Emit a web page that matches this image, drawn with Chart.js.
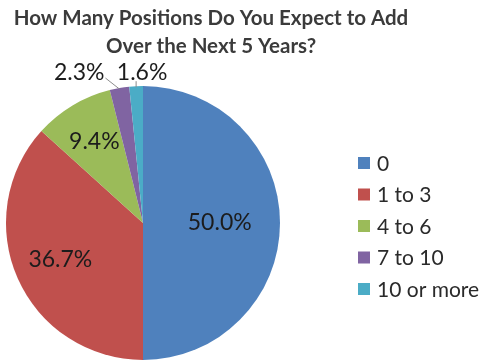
<!DOCTYPE html>
<html>
<head>
<meta charset="utf-8">
<script src="https://cdn.jsdelivr.net/npm/chart.js@4/dist/chart.umd.min.js"></script>
<style>
  html, body { margin: 0; padding: 0; background: #ffffff; }
  #wrap { width: 479px; height: 364px; position: relative; }
</style>
</head>
<body>
<div id="wrap"><canvas id="chart" width="479" height="364"></canvas></div>
<script>
// Survey answers: expected number of positions to add over the next 5 years
const categories = ['0', '1 to 3', '4 to 6', '7 to 10', '10 or more'];
const shares = [50.0, 36.7, 9.4, 2.3, 1.6];
const sliceColors = ['#4F81BD', '#C0504D', '#9BBB59', '#8064A2', '#4BACC6'];
const titleLines = ['How Many Positions Do You Expect to Add', 'Over the Next 5 Years?'];

const FONT = 'Lato, "Open Sans", sans-serif';

// Title, slice percentage labels and a right-hand legend, drawn on the canvas
const decorations = {
  id: 'decorations',
  afterDraw(chart, args, opts) {
    const ctx = chart.ctx;
    const meta = chart.getDatasetMeta(0);
    ctx.save();

    // title
    ctx.fillStyle = '#3b3b3b';
    ctx.font = 'bold ' + opts.titleSize + 'px ' + FONT;
    ctx.textAlign = 'center';
    ctx.textBaseline = 'middle';
    titleLines.forEach((line, i) => {
      ctx.fillText(line, opts.titleX, opts.titleY + i * opts.titleGap);
    });

    // percentage labels
    ctx.font = opts.labelSize + 'px ' + FONT;
    ctx.fillStyle = '#1c1c1c';
    meta.data.forEach((arc, i) => {
      const p = arc.getProps(['x', 'y', 'startAngle', 'endAngle', 'outerRadius'], true);
      const mid = (p.startAngle + p.endAngle) / 2;
      const text = shares[i].toFixed(1) + '%';
      const out = opts.outside[i];
      if (out) {
        const ex = p.x + Math.cos(mid) * p.outerRadius;
        const ey = p.y + Math.sin(mid) * p.outerRadius;
        ctx.strokeStyle = '#8c8c8c';
        ctx.lineWidth = 1;
        ctx.beginPath();
        ctx.moveTo(ex, ey + 1);
        ctx.lineTo(ex + out.lx, ey + out.ly);
        ctx.stroke();
        ctx.textAlign = out.align;
        ctx.fillText(text, ex + out.tx, ey + out.ty);
      } else {
        const f = opts.inside[i];
        ctx.textAlign = 'center';
        ctx.fillText(text, p.x + Math.cos(mid) * p.outerRadius * f, p.y + Math.sin(mid) * p.outerRadius * f);
      }
    });

    // legend
    ctx.font = opts.legendSize + 'px ' + FONT;
    ctx.textAlign = 'left';
    categories.forEach((c, i) => {
      const y = opts.legendY + i * opts.legendGap;
      ctx.fillStyle = sliceColors[i];
      ctx.fillRect(opts.legendX, y - 6, 12, 12);
      ctx.fillStyle = '#2a2a2a';
      ctx.fillText(c, opts.legendX + 19, y + 1);
    });
    ctx.restore();
  }
};

new Chart(document.getElementById('chart'), {
  type: 'pie',
  data: {
    labels: categories,
    datasets: [{
      data: shares,
      backgroundColor: sliceColors,
      borderWidth: 0
    }]
  },
  options: {
    responsive: false,
    animation: false,
    layout: { padding: { left: 6, right: 199, top: 86, bottom: 4 } },
    plugins: {
      legend: { display: false },
      title: { display: false },
      tooltip: { enabled: false },
      decorations: {
        titleSize: 20.5, titleX: 211, titleY: 18, titleGap: 28,
        labelSize: 23,
        inside: { 0: 0.56, 1: 0.66, 2: 0.69 },
        outside: {
          3: { lx: -14, ly: -10, tx: -15, ty: -15, align: 'right' },
          4: { lx: 0, ly: -5, tx: 6, ty: -14, align: 'center' }
        },
        legendSize: 21, legendX: 358, legendY: 163, legendGap: 31.5
      }
    }
  },
  plugins: [decorations]
});
</script>
</body>
</html>
